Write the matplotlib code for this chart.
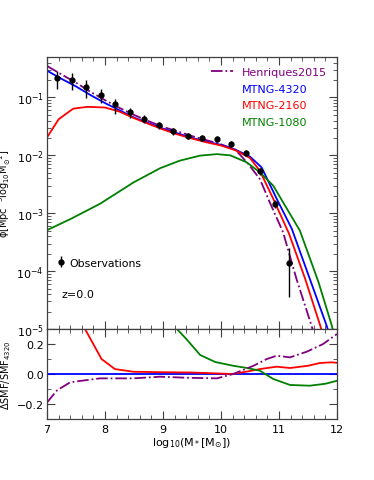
import numpy as np
import matplotlib
matplotlib.use('Agg')
import matplotlib.pyplot as plt
from matplotlib.ticker import MultipleLocator, LogLocator, NullFormatter

params = {'font.family': 'DejaVu Sans',
          'font.size': 8,
          'axes.labelsize': 7,
          'axes.linewidth': 0.9,
          'axes.edgecolor': '0.25',
          'xtick.direction': 'in',
          'ytick.direction': 'in',
          'xtick.top': True,
          'ytick.right': True,
          'xtick.major.size': 5.5,
          'ytick.major.size': 5.5,
          'xtick.minor.size': 3,
          'ytick.minor.size': 3,
          'ytick.major.pad': 2.5,
          'xtick.color': '0.25',
          'ytick.color': '0.25',
          'xtick.labelcolor': 'black',
          'ytick.labelcolor': 'black',
          'mathtext.default': 'regular'}
plt.rcParams.update(params)

# --- stellar mass function, z=0 ---
m_4320 = [7.0, 7.25, 7.5, 7.75, 8.0, 8.25, 8.5, 8.75, 9.0, 9.25, 9.5, 9.75, 10.0,
          10.25, 10.5, 10.7, 10.96, 11.22, 11.53, 11.82, 12.0]
phi_4320 = [0.29, 0.21, 0.155, 0.11, 0.08, 0.060, 0.045, 0.036, 0.029, 0.024, 0.020,
            0.0172, 0.0152, 0.0125, 0.0095, 0.0062, 0.00178, 5.4e-4, 7.4e-5,
            1.15e-5, 3e-6]

m_2160 = [7.0, 7.2, 7.45, 7.7, 8.0, 8.25, 8.5, 8.75, 9.0, 9.25, 9.5, 9.75, 10.0,
          10.25, 10.5, 10.67, 10.9, 11.17, 11.45, 11.71, 12.0]
phi_2160 = [0.0204, 0.042, 0.064, 0.069, 0.067, 0.057, 0.044, 0.035, 0.028, 0.023,
            0.0195, 0.0168, 0.0148, 0.0122, 0.009, 0.0054, 0.00178, 4.5e-4, 7.4e-5,
            1.15e-5, 1.2e-6]

m_1080 = [7.0, 7.4, 7.91, 8.49, 8.95, 9.29, 9.64, 9.93, 10.16, 10.44, 10.67, 10.9,
          11.36, 11.68, 11.91, 12.0]
phi_1080 = [5.1e-4, 7.9e-4, 1.45e-3, 3.4e-3, 6.0e-3, 8.1e-3, 9.9e-3, 1.05e-2, 1.0e-2,
            7.6e-3, 5.1e-3, 3.0e-3, 5.0e-4, 6.5e-5, 1.15e-5, 5e-6]

m_h15 = [7.0, 7.25, 7.5, 7.75, 8.0, 8.25, 8.5, 8.75, 9.0, 9.25, 9.5, 9.75, 10.0,
         10.25, 10.47, 10.67, 10.84, 11.07, 11.30, 11.56, 11.75, 12.0]
phi_h15 = [0.35, 0.25, 0.18, 0.125, 0.09, 0.066, 0.05, 0.039, 0.031, 0.026, 0.0215,
           0.0183, 0.0155, 0.0125, 0.0071, 0.0039, 0.00155, 4.7e-4, 7.4e-5, 1.15e-5,
           2.5e-6, 3e-7]

obs_m = [7.18, 7.43, 7.68, 7.93, 8.18, 8.43, 8.68, 8.93, 9.18, 9.43, 9.68, 9.93,
         10.18, 10.43, 10.68, 10.93, 11.18]
obs_phi = [0.22, 0.20, 0.15, 0.112, 0.077, 0.056, 0.043, 0.033, 0.026, 0.022, 0.020,
           0.019, 0.0158, 0.011, 0.0053, 0.00145, 1.4e-4]
obs_err_lo = [0.20, 0.17, 0.18, 0.14, 0.18, 0.11, 0.08, 0.07, 0.06, 0.06, 0.05, 0.05,
              0.05, 0.05, 0.06, 0.07, 0.60]  # dex
obs_err_hi = [0.12, 0.13, 0.13, 0.10, 0.09, 0.07, 0.07, 0.06, 0.06, 0.05, 0.05, 0.05,
              0.05, 0.05, 0.06, 0.07, 0.26]  # dex

# --- residual panel ---
r_m_2160 = [7.655, 7.94, 8.17, 8.49, 9.0, 9.5, 10.0, 10.2, 10.5, 10.67, 10.96, 11.19,
            11.5, 11.7, 11.9, 12.0]
r_2160 = [0.30, 0.10, 0.033, 0.015, 0.012, 0.01, 0.003, 0.0, 0.02, 0.033, 0.049,
          0.04, 0.055, 0.073, 0.078, 0.075]

r_m_1080 = [9.24, 9.41, 9.64, 9.9, 10.21, 10.45, 10.67, 10.9, 11.19, 11.53, 11.8, 12.0]
r_1080 = [0.30, 0.23, 0.127, 0.08, 0.055, 0.04, 0.022, -0.033, -0.073, -0.078,
          -0.065, -0.045]

r_m_h15 = [7.0, 7.17, 7.4, 7.91, 8.49, 8.95, 9.41, 9.93, 10.21, 10.56, 10.79, 10.96,
           11.19, 11.48, 11.76, 12.0]
r_h15 = [-0.19, -0.11, -0.055, -0.029, -0.029, -0.018, -0.025, -0.029, 0.0, 0.055,
         0.10, 0.122, 0.111, 0.149, 0.20, 0.267]

r_m_4320 = [7.0, 12.0]
r_4320 = [0.0, 0.0]


def set_fig():
    fig = plt.figure(figsize=(3.74, 4.81), dpi=100)
    # From the bottom left corner x, y, width, height
    ax = fig.add_axes([0.1257, 0.3139, 0.7754, 0.5655])
    ax2 = fig.add_axes([0.1257, 0.1268, 0.7754, 0.1871], sharex=ax)
    return fig, ax, ax2


def set_ax(ax):
    ax.plot(m_h15, phi_h15, color='purple', ls='-.', lw=1.3, label='Henriques2015')
    ax.plot(m_4320, phi_4320, color='blue', lw=1.3, label='MTNG-4320')
    ax.plot(m_2160, phi_2160, color='red', lw=1.3, label='MTNG-2160')
    ax.plot(m_1080, phi_1080, color='green', lw=1.3, label='MTNG-1080')

    logphi = np.log10(obs_phi)
    lo = np.array(obs_phi) - 10 ** (logphi - np.array(obs_err_lo))
    hi = 10 ** (logphi + np.array(obs_err_hi)) - np.array(obs_phi)
    eb = ax.errorbar(obs_m, obs_phi, yerr=[lo, hi], fmt='o', color='black', ms=3.5,
                     elinewidth=1.0, capsize=0, zorder=5, label='Observations')

    ax.set_yscale('log')
    ax.set_ylim(1e-5, 0.5)
    ax.set_xlim(7, 12)
    ax.xaxis.set_minor_locator(MultipleLocator(0.2))
    ax.yaxis.set_minor_locator(LogLocator(base=10, subs=np.arange(2, 10), numticks=20))
    ax.yaxis.set_minor_formatter(NullFormatter())
    ax.tick_params(labelbottom=False)
    ax.set_ylabel(r'$\phi$[Mpc$^{-3}$log$_{10}$M$_{\odot}^{-1}$]')
    ax.yaxis.set_label_coords(-0.118, 0.5)

    leg = ax.legend(handles=ax.get_lines()[:4], loc='upper right', frameon=False,
                    labelcolor='linecolor', fontsize=8, handlelength=2.0,
                    borderaxespad=0.5, labelspacing=0.6)
    for h in leg.legend_handles[1:]:
        h.set_visible(False)
    ax.add_artist(leg)

    ax.legend(handles=[eb], loc='lower left', bbox_to_anchor=(0.0, 0.19),
              frameon=False, handlelength=0.8, handletextpad=0.4, fontsize=7.8)
    ax.text(0.05, 0.13, 'z=0.0', transform=ax.transAxes, va='center', ha='left')


def set_ax2(ax2):
    ax2.plot(r_m_4320, r_4320, color='blue', lw=1.3)
    ax2.plot(r_m_2160, r_2160, color='red', lw=1.3)
    ax2.plot(r_m_1080, r_1080, color='green', lw=1.3)
    ax2.plot(r_m_h15, r_h15, color='purple', ls='-.', lw=1.3)
    ax2.set_ylim(-0.3, 0.3)
    ax2.set_yticks([-0.2, 0.0, 0.2])
    ax2.yaxis.set_minor_locator(MultipleLocator(0.1))
    ax2.xaxis.set_minor_locator(MultipleLocator(0.2))
    ax2.set_xticks([7, 8, 9, 10, 11, 12])
    ax2.set_xlabel(r'log$_{10}$(M$_*$[M$_{\odot}$])', labelpad=1, fontsize=8)
    ax2.set_ylabel(r'$\Delta$SMF/SMF$_{4320}$')
    ax2.yaxis.set_label_coords(-0.118, 0.5)


fig, ax, ax2 = set_fig()
set_ax(ax)
set_ax2(ax2)
plt.savefig('out.png', dpi=100)
plt.close(fig)
